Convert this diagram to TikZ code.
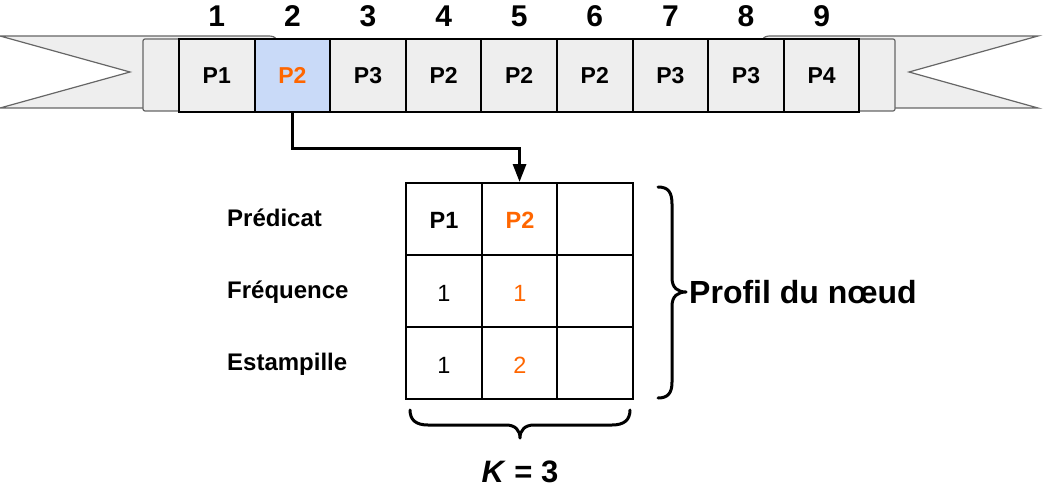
\documentclass[tikz,border=0pt]{standalone}
\usepackage{fontspec}
\setmainfont{Liberation Sans}
\usetikzlibrary{arrows.meta}
\definecolor{ribfill}{HTML}{EEEEEE}
\definecolor{ribline}{HTML}{666666}
\definecolor{selblue}{HTML}{C9DAF8}
\definecolor{orng}{HTML}{FF6600}
\tikzset{
  ribbon/.style={fill=ribfill, draw=ribline, line width=1.2pt, line join=miter},
  cell/.style={draw=black, line width=2pt, fill=ribfill, minimum width=75.6pt, minimum height=73pt, inner sep=0pt},
  tcell/.style={draw=black, line width=2pt, minimum width=75.7pt, minimum height=72pt, inner sep=0pt},
  ctext/.style={anchor=base, inner sep=0pt, font=\fontsize{23}{27}\selectfont\bfseries},
  tbold/.style={anchor=base, inner sep=0pt, font=\fontsize{23.5}{28}\selectfont\bfseries},
  treg/.style={anchor=base, inner sep=0pt, font=\fontsize{23.5}{28}\selectfont},
  idx/.style={anchor=base, inner sep=0pt, font=\fontsize{30}{35}\selectfont\bfseries},
  lbl/.style={anchor=base west, inner sep=0pt, font=\fontsize{24}{28}\selectfont\bfseries},
  brace/.style={draw=black, line width=3pt, line cap=round, line join=round},
  arr/.style={draw=black, line width=3pt, -{Triangle[length=18pt,width=13pt]}}
}
\begin{document}
\begin{tikzpicture}[x=1pt,y=-1pt]
\useasboundingbox (0,0) rectangle (1043,492);
% ribbon back pieces
\path[ribbon] (0,36) -- (268,36) to[out=0,in=90] (276,40) -- (276,100) -- (200,108) -- (0,108) -- (130,72) -- cycle;
\path[ribbon] (1038,36) -- (770,36) to[out=180,in=90] (763,40) -- (763,100) -- (850,108) -- (1038,108) -- (909,72) -- cycle;
% ribbon front
\path[ribbon, rounded corners=2pt] (143,39) rectangle (895,111);
% cells
\foreach \i/\t in {1/P1,2/P2,3/P3,4/P2,5/P2,6/P2,7/P3,8/P3,9/P4}{
  \node[cell] (c\i) at ({179+75.6*(\i-0.5)},75.5) {};
  \node[idx] (n\i) at ({179+75.6*(\i-0.5)},27) {\i};
}
\node[cell, fill=selblue] (c2) at ({179+75.6*1.5},75.5) {};
\foreach \i/\t in {1/P1,3/P3,4/P2,5/P2,6/P2,7/P3,8/P3,9/P4}{
  \node[ctext] (ct\i) at ({179+75.6*(\i-0.5)},83.5) {\t};
}
\node[ctext, text=orng] (ct2) at ({179+75.6*1.5},83.5) {P2};
% table
\foreach \r in {1,2,3}{
  \foreach \c in {1,2,3}{
    \node[tcell] (t\r\c) at ({406+75.7*(\c-0.5)},{183+72*(\r-0.5)}) {};
  }
}
\node[tbold] (v11) at (444,228.5) {P1};
\node[tbold, text=orng] (v12) at (520,228.5) {P2};
\node[treg] (v21) at (444,301) {1};
\node[treg, text=orng] (v22) at (520,301) {1};
\node[treg] (v31) at (444,373) {1};
\node[treg, text=orng] (v32) at (520,373) {2};
% labels
\node[lbl] (l1) at (227,226) {Prédicat};
\node[lbl] (l2) at (227,298) {Fréquence};
\node[lbl] (l3) at (227,370) {Estampille};
% arrow
\coordinate (bend) at (0,148);
\draw[arr] (c2.south) -- (c2.south |- bend) -- (t12.north |- bend) -- (t12.north);
% right brace
\draw[brace] (658,187) .. controls (668,187) and (672,192) .. (672,204) -- (672,278)
  .. controls (672,288) and (678,292) .. (686,292)
  .. controls (678,292) and (672,296) .. (672,306) -- (672,382)
  .. controls (672,393) and (668,398) .. (658,398);
\node[anchor=base west, inner sep=0pt, font=\fontsize{32}{37}\selectfont\bfseries] (prof) at (689,303) {Profil du nœud};
% bottom brace
\draw[brace] (410,410) .. controls (410,420) and (416,425) .. (428,425) -- (506,425)
  .. controls (515,425) and (520,430) .. (520,438)
  .. controls (520,430) and (525,425) .. (534,425) -- (612,425)
  .. controls (624,425) and (630,420) .. (630,410);
\node[anchor=base, inner sep=0pt, font=\fontsize{31}{36}\selectfont\bfseries] (kk) at (520,482) {\textit{K} = 3};
\end{tikzpicture}
\end{document}
